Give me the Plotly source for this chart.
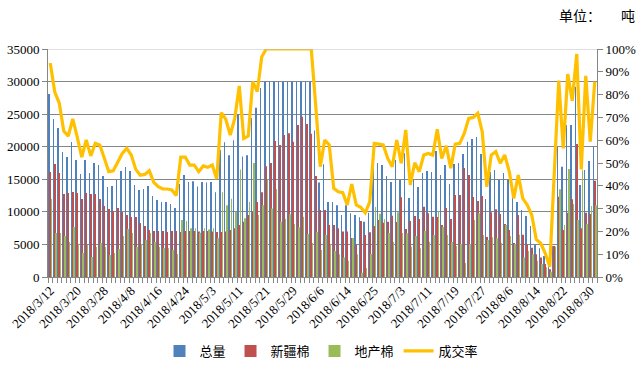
import plotly.graph_objects as go

dates = (
    ["2018/3/%d" % d for d in [12,13,14,15,16,19,20,21,22,23,26,27,28,29,30]]
    + ["2018/4/%d" % d for d in [2,3,4,8,9,10,11,12,13,16,17,18,19,20,23,24,25,26,27,28]]
    + ["2018/5/%d" % d for d in [2,3,4,7,8,9,10,11,14,15,16,17,18,21,22,23,24,25,28,29,30,31]]
    + ["2018/6/%d" % d for d in [1,4,5,6,7,8,11,12,13,14,15,19,20,21,22,25,26,27,28,29]]
    + ["2018/7/%d" % d for d in [2,3,4,5,6,9,10,11,12,13,16,17,18,19,20,23,24,25,26,27,30,31]]
    + ["2018/8/%d" % d for d in [1,2,3,6,7,8,9,10,13,14,15,16,17,20,21,22,23,24,27,28,29,30,31]]
)

total = [28100,24260,22880,19190,18420,20730,17960,15810,17960,15970,17500,17200,15500,13820,13970,14890,16270,16890,16270,14120,
         13360,13510,13970,12440,11820,11510,11510,11210,10590,14280,15660,14590,14700,13900,14600,14500,14600,13000,19500,20700,
         18700,21000,25000,18500,18700,24400,26000,29000,30000,30000,30000,30000,30000,30000,30000,30000,30000,30000,30000,22500,
         14500,17300,11500,11500,11000,9500,11000,9800,9500,9160,8490,9880,17000,17500,17190,15500,14580,17960,14890,18980,
         12130,14890,13820,15970,16270,16120,19340,15660,17190,14280,17350,17500,18880,20775,21180,21490,18880,11970,16120,16430,
         14890,15970,14890,13510,11500,10290,9360,7830,4910,4400,3220,1840,4760,20000,16940,23330,23340,29220,14120,16430,17810,20010]
xinjiang = [16120,17350,15970,12740,12900,13050,12900,11980,12900,12740,12740,11980,10900,10440,10130,10590,9980,9520,9210,9210,
            8290,7830,7220,7060,7060,7060,6910,7060,7060,6910,7060,7060,7060,7000,7060,7060,7000,6900,6900,7000,
            7200,7500,8000,8500,9500,10000,11500,13000,17000,17500,20880,20260,21800,22050,20775,23330,24610,23490,22000,15500,
            10290,10290,8000,8000,7500,7000,7000,6000,5000,8600,6450,6860,7830,8750,8340,8490,9420,8440,12230,7370,
            8600,9360,8900,10800,9770,9260,9210,7980,10590,8900,12590,12590,16730,15660,12280,11670,12430,6140,9930,10390,
            9670,8140,7210,5220,9500,6500,5000,4500,3500,3000,2000,1200,4760,12330,7200,9880,11920,20420,7470,9880,9670,14790]
local = [11980,6750,6750,6300,5370,7680,5100,3680,4910,3070,4600,5220,4600,3380,3680,4300,6300,7370,6750,4600,
         5070,5680,6750,5370,4600,4450,4450,4150,3530,8750,8600,7500,7500,6800,7500,7300,7500,6000,13000,11000,
         12000,10000,16500,9000,11500,17500,9500,11000,15000,10500,13500,8500,8950,9620,8140,7620,9260,6600,5220,6960,
         4140,6450,5000,4000,3500,3000,2500,6000,3500,670,1380,3530,10750,9720,8900,6750,5370,9930,6750,6700,
         4660,6290,4400,7060,5420,6450,10130,7680,6450,5370,4760,5070,2150,5070,8750,9770,6450,5680,6090,5940,
         5220,7980,6290,5070,6500,3000,4000,3500,2500,2000,1500,800,4700,13460,7980,16580,11200,8750,16420,8140,10900,11000]
rate = [93.9,81.1,76.3,64.0,61.8,69.3,61.3,52.6,60.1,53.1,58.6,57.9,52.2,46.2,46.6,50.4,54.2,56.4,53.5,47.2,
        44.6,45.0,46.6,41.5,39.6,38.6,38.6,38.2,35.7,52.6,52.6,49.1,49.1,46.2,48.7,48.1,49.1,43.0,72.1,69.2,
        62.3,69.6,83.8,60.8,61.8,85.7,81.3,96.6,100,100,100,100,100,100,100,100,100,100,100,75.0,
        48.4,60.1,57.9,38.9,37.4,37.0,31.6,40.8,31.6,30.6,28.2,33.0,58.6,58.3,57.9,52.0,48.4,60.1,49.9,64.5,
        40.4,50.1,46.2,53.5,54.2,53.5,64.8,52.0,57.5,47.7,58.3,58.6,63.0,69.6,70.0,71.8,63.7,39.6,53.5,55.0,
        49.9,53.5,46.2,34.5,44.7,34.5,31.6,27.2,16.5,14.8,10.4,4.5,45.0,86.1,56.4,89.0,77.3,97.8,47.2,88.2,59.4,85.7]

series_names = ["总量", "新疆棉", "地产棉", "成交率"]
bar_colors = ["#4F81BD", "#C0504D", "#9BBB59"]
line_color = "#FFC000"

left_ticks = [0, 5000, 10000, 15000, 20000, 25000, 30000, 35000]
right_ticks = [0, 10, 20, 30, 40, 50, 60, 70, 80, 90, 100]

SERIF = "Liberation Serif, Times New Roman, serif"
CJK = "Noto Sans CJK SC, sans-serif"

fig = go.Figure()
for name, vals, col in zip(series_names[:3], [total, xinjiang, local], bar_colors):
    fig.add_trace(go.Bar(x=dates, y=vals, name=name, marker=dict(color=col, line=dict(width=0))))
fig.add_trace(go.Scatter(x=dates, y=rate, name=series_names[3], mode="lines",
                         line=dict(color=line_color, width=3.2), yaxis="y2"))

tick_text = [d if i % 6 == 0 else "" for i, d in enumerate(dates)]

fig.update_layout(
    width=643, height=368,
    margin=dict(l=48, r=46, t=49, b=91, autoexpand=False),
    paper_bgcolor="white", plot_bgcolor="white",
    barmode="group", bargap=0.25, bargroupgap=0.35,
    font=dict(family=SERIF, size=12, color="#000000"),
    xaxis=dict(type="category", tickmode="array", tickvals=dates, ticktext=tick_text,
               tickangle=-45, ticks="outside", ticklen=5, tickcolor="#868686",
               tickson="boundaries", automargin=False,
               showline=True, linecolor="#868686", linewidth=1, showgrid=False,
               tickfont=dict(size=13, family=SERIF)),
    yaxis=dict(range=[0, 35000], tickvals=left_ticks, ticktext=[str(v) for v in left_ticks],
               showgrid=True, gridcolor="#868686", gridwidth=1, automargin=False,
               showline=True, linecolor="#868686", ticks="outside", ticklen=5, tickcolor="#868686",
               zeroline=False, tickfont=dict(size=13, family=SERIF)),
    yaxis2=dict(range=[0, 100], overlaying="y", side="right", tickvals=right_ticks,
                ticktext=["%d%%" % v for v in right_ticks], showgrid=False, automargin=False,
                showline=True, linecolor="#868686", ticks="outside", ticklen=5, tickcolor="#868686",
                zeroline=False, tickfont=dict(size=13, family=SERIF)),
    legend=dict(orientation="h", x=0.5, xanchor="center", xref="container",
                y=17 / 368, yanchor="middle", yref="container",
                font=dict(family=CJK, size=13), traceorder="normal"),
    shapes=[dict(type="line", xref="paper", yref="y", x0=0, x1=1, y0=35000, y1=35000,
                 line=dict(color="#BFBFBF", width=1))],
    annotations=[
        dict(text="单位：", x=(603 - 48) / 549, y=(277 - 15) / 228,
             xref="paper", yref="paper", xanchor="right", yanchor="middle",
             showarrow=False, font=dict(family=CJK, size=14)),
        dict(text="吨", x=(637 - 48) / 549, y=(277 - 15) / 228,
             xref="paper", yref="paper", xanchor="right", yanchor="middle",
             showarrow=False, font=dict(family=CJK, size=14)),
    ],
)

fig.write_html("out.html", config={"displayModeBar": False},
               post_script="document.body.style.margin='0';")
